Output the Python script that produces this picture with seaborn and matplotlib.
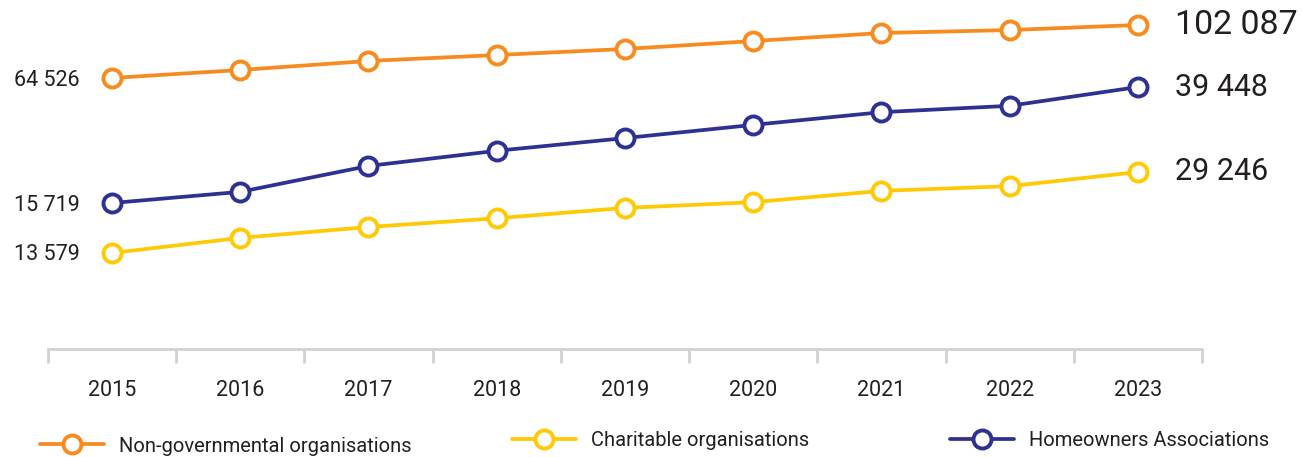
import numpy as np
import pandas as pd
import seaborn as sns
import matplotlib.pyplot as plt
from matplotlib.lines import Line2D

years = ["2015", "2016", "2017", "2018", "2019", "2020", "2021", "2022", "2023"]
ngo = [64526, 70200, 76600, 80800, 85100, 90700, 96400, 98500, 102087]
homeowners = [15719, 18000, 23300, 26400, 29000, 31700, 34300, 35600, 39448]
charitable = [13579, 16500, 18600, 20300, 22300, 23400, 25600, 26500, 29246]

names = ["Non-governmental organisations", "Charitable organisations", "Homeowners Associations"]
colors = ["#F68B1F", "#FFC905", "#2E3192"]

sns.set_theme(style="white")
plt.rcParams["font.family"] = ["Roboto", "DejaVu Sans"]
text_color = "#231F20"

df = pd.DataFrame({"idx": np.arange(len(years)), "year": years,
                   names[0]: ngo, names[1]: charitable, names[2]: homeowners})

W, H = 1303, 457
fig = plt.figure(figsize=(W / 100, H / 100), dpi=100)
axis_px = 349
ax = fig.add_axes([0, 1 - axis_px / H, 1, axis_px / H])

# each series sits on its own scale (fraction of axes height for first / last point)
layout = {
    names[0]: (0.7765, 0.9284, 24.5),
    names[1]: (0.2751, 0.5072, 22),
    names[2]: (0.4183, 0.7507, 22),
}

for name, color in zip(names, colors):
    tw = ax.twinx()
    vals = df[name].to_numpy()
    f0, f1, rsize = layout[name]
    span = (vals[-1] - vals[0]) / (f1 - f0)
    lo = vals[0] - f0 * span
    tw.set_ylim(lo, lo + span)
    sns.lineplot(data=df, x="idx", y=name, ax=tw, color=color, linewidth=2.7,
                 marker="o", markersize=13, markerfacecolor="white",
                 markeredgecolor=color, markeredgewidth=2.8)
    tw.set_axis_off()
    tw.annotate(f"{vals[0]:,}".replace(",", " "), xy=(0, vals[0]), xytext=(-32, -2),
                textcoords="offset pixels", ha="right", va="center",
                fontsize=15.5, color=text_color)
    tw.annotate(f"{vals[-1]:,}".replace(",", " "), xy=(len(years) - 1, vals[-1]),
                xytext=(37, 0), textcoords="offset pixels", ha="left", va="center",
                fontsize=rsize, color=text_color)

ax.set_xlim(-0.873, 9.287)
ax.set_ylim(0, 1)
for s in ["top", "left", "right"]:
    ax.spines[s].set_visible(False)
ax.spines["bottom"].set_bounds(-0.5, len(years) - 0.5)
ax.spines["bottom"].set_color("#D1D2D4")
ax.spines["bottom"].set_linewidth(2)
ax.set_yticks([])
ax.set_xticks(np.arange(len(years)))
ax.set_xticklabels(years, fontsize=15.5, color=text_color)
ax.set_xticks(np.arange(-0.5, len(years)), minor=True)
ax.tick_params(axis="x", which="major", length=0, pad=22)
ax.tick_params(axis="x", which="minor", length=10, width=2, color="#D1D2D4",
               direction="out", bottom=True)
ax.set_xlabel("")
ax.set_ylabel("")

# legend entries placed individually, as in the original layout
for name, color, x0, y0 in zip(names, colors, [40, 512, 950], [446, 441, 441]):
    h = Line2D([], [], color=color, linewidth=2.7, marker="o", markersize=13,
               markerfacecolor="white", markeredgecolor=color, markeredgewidth=2.8)
    fig.legend([h], [name], loc="center left", bbox_to_anchor=(x0 / W, 1 - y0 / H),
               frameon=False, fontsize=14.5, handlelength=3.2, handletextpad=0.7,
               labelcolor=text_color, borderpad=0, borderaxespad=0)

fig.savefig("out.png", dpi=100)
